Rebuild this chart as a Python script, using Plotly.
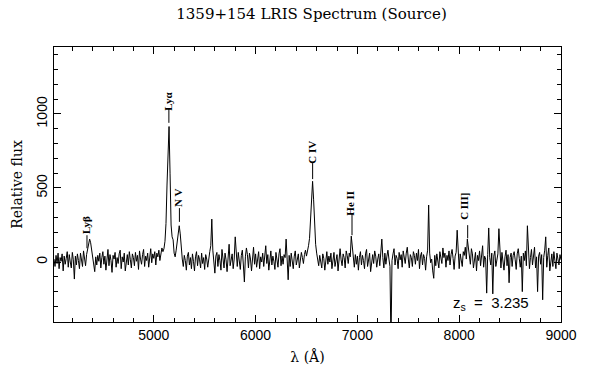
import numpy as np
import plotly.graph_objects as go

# ---------------- data ----------------
wave_start = 4020.0   # Angstrom, first sample
wave_step = 10.0      # Angstrom per sample

flux = [
    # 4020 - 4260
    20, -30, 45, -10, 60, -45, 30, 5, 55, -60, 40, -15, 25, 70, -35, 50, 0, -40, 65, 15, -115, 40, -20, 55, 10,
    # 4270 - 4510 (Ly beta)
    -45, 60, 20, -30, 75, 30, -25, 50, 80, 110, 155, 130, 80, 40, -10, -65, 35, -20, 45, 5, 60, -40, 30, 70, -15,
    # 4520 - 4760
    40, -55, 25, 85, -25, 50, 10, -70, 45, 20, 65, -35, 30, -10, 55, 80, -45, 35, 0, 60, -60, 25, 50, -20, 70,
    # 4770 - 5010
    15, -40, 55, 30, -25, 65, 5, 45, -50, 75, 20, -15, 50, 85, -30, 40, 10, 60, -35, 45, 90, -5, 55, 25, 70,
    # 5020 - 5260 (Ly alpha, N V)
    -20, 60, 35, 80, 10, 55, 95, 70, 90, 140, 260, 520, 820, 915, 600, 250, 170, 150, 60, 35, 80, 150, 215, 245, 190,
    # 5270 - 5510
    70, 20, -30, 45, 10, -55, 40, 65, -20, 30, -45, 55, 5, -60, 35, 70, -25, 45, 15, -40, 60, -10, 30, -50, 50,
    # 5520 - 5760
    20, -35, 45, 70, 110, 290, 80, -20, -75, 40, 65, -30, 50, 10, -55, 85, 35, -40, 60, 15, -65, 45, 120, -25, 30,
    # 5770 - 6010
    55, -45, 20, 170, 40, -30, 65, 10, -50, 45, 80, -20, -135, 35, 95, 50, -40, 60, 20, -60, 40, 100, -15, 55, -35,
    # 6020 - 6260
    25, 70, -45, 35, 0, 60, -30, 45, 110, -10, 50, -55, 30, 75, -20, 40, 5, -50, 65, 20, -35, 55, 90, -25, 40,
    # 6270 - 6510
    -15, 50, 30, 155, 20, -120, 45, -30, 60, 10, -45, 40, 75, -20, 35, 55, -40, 15, 65, 30, -10, 50, 80, 40, 70,
    # 6520 - 6760 (C IV)
    110, 160, 280, 450, 545, 420, 220, 120, 60, 20, -25, 45, 10, -40, 55, 25, -55, 35, 70, -15, 40, 0, 60, -45, 30,
    # 6770 - 7010 (He II)
    65, -30, 20, 50, -60, 40, 90, 15, -25, 55, 30, -40, 75, 45, -10, 60, 35, 175, 110, 20, -35, 50, -15, 40, -55,
    # 7020 - 7260
    30, 70, -20, 45, 10, -45, 55, 85, -30, 35, 60, -65, 25, 50, -10, 75, 40, -35, 20, 55, -25, 45, 155, 30, -40,
    # 7270 - 7510
    60, -15, 40, 80, 20, -30, -560, 10, 55, 90, -20, 45, 25, -45, 65, 15, 50, -35, 75, 35, -10, 60, 100, 20, -40,
    # 7520 - 7760
    50, 30, -30, 70, 45, -15, 60, 10, 85, -45, 40, 65, -20, 50, 25, -55, 35, 80, 385, 60, -5, 20, -60, -110, 45,
    # 7770 - 8010
    -25, 55, 20, -40, 70, 40, -10, 95, 30, 60, -35, 45, 10, 75, -20, 50, 85, 25, -50, 40, 65, 215, 30, -45, 55,
    # 8020 - 8260 (C III])
    15, -30, 70, 45, 100, 20, 155, 80, 40, -15, 90, 55, -40, 30, 65, -60, 45, 10, 75, -25, 50, 110, -35, 40, 20,
    # 8270 - 8510
    -210, 50, 230, 30, -20, 60, -215, 40, 75, -30, 20, 55, 225, 45, -40, 65, 10, -55, 35, 80, -25, 50, -140, 30, 60,
    # 8520 - 8760
    -30, 45, 70, 15, -50, 55, 90, 25, -35, 40, -200, 60, 10, 75, -25, 245, 50, -45, 30, 85, -20, 55, 100, -40, 35,
    # 8770 - 9000
    -200, 40, 65, -15, 50, -255, 30, 80, 170, -35, 45, 95, -60, 20, 55, -30, 70, 10, -45, 60, 25, -20, 50, 15,
]

z_source = 3.235
line_names = ["Lyβ", "Lyα", "N V", "C IV", "He II", "C III]"]
line_rest = [1025.7, 1215.7, 1240.1, 1549.1, 1640.4, 1908.7]

x_ticks = [5000, 6000, 7000, 8000, 9000]
y_ticks = [0, 500, 1000]

# ------------- label layout (flux-axis positions of marker ends and text) -------------
marker_top = [181, 1039, 364, 668, 329, 249]
marker_bot = [93, 940, 271, 560, 181, 160]
label_y = [249, 1089, 435, 743, 394, 377]
label_dx = [-1, -1, -2, -1, -2, -3]

wave = wave_start + wave_step * np.arange(len(flux))
line_obs = [w * (1 + z_source) for w in line_rest]

fig = go.Figure()
fig.add_trace(go.Scatter(
    x=wave, y=flux, mode="lines",
    line=dict(color="black", width=1),
    hoverinfo="skip",
))

shapes = []
annotations = []
for name, lo, top, bot, ly, dx in zip(line_names, line_obs, marker_top, marker_bot, label_y, label_dx):
    shapes.append(dict(type="line", xref="x", yref="y", x0=lo, x1=lo, y0=bot, y1=top,
                       line=dict(color="black", width=1)))
    annotations.append(dict(x=lo, y=ly, xref="x", yref="y", text="<b>" + name + "</b>",
                            showarrow=False, textangle=-90, xanchor="center",
                            yanchor="middle", xshift=dx,
                            font=dict(family="Liberation Serif", size=11, color="black")))

annotations.append(dict(x=8311, y=-280, xref="x", yref="y",
                        text="z<sub>s</sub>  =  3.235", showarrow=False,
                        xanchor="center", yanchor="middle",
                        font=dict(family="Liberation Sans", size=15, color="black")))

axis_common = dict(
    showline=True, linecolor="black", linewidth=1, mirror="ticks",
    ticks="inside", ticklen=7, tickwidth=1, tickcolor="black",
    showgrid=False, zeroline=False,
    tickfont=dict(family="Liberation Sans", size=14, color="black"),
)

fig.update_layout(
    width=589, height=383,
    margin=dict(l=54, r=20, t=47, b=61),
    paper_bgcolor="white", plot_bgcolor="white",
    showlegend=False,
    title=dict(text="1359+154 LRIS Spectrum (Source)", x=311.5 / 589, xanchor="center",
               y=1 - 14 / 383, yanchor="middle",
               font=dict(family="DejaVu Serif", size=15, color="black")),
    xaxis=dict(range=[4020, 9000], tickvals=x_ticks, ticktext=[str(v) for v in x_ticks],
               minor=dict(dtick=200, tick0=4000, ticks="inside", ticklen=4,
                          tickcolor="black", showgrid=False),
               title=dict(text="λ (Å)", standoff=10,
                          font=dict(family="DejaVu Serif", size=14, color="black")),
               **axis_common),
    yaxis=dict(range=[-405, 1452], tickvals=y_ticks, ticktext=[str(v) for v in y_ticks],
               tickangle=-90,
               minor=dict(dtick=100, tick0=0, ticks="inside", ticklen=4,
                          tickcolor="black", showgrid=False),
               title=dict(text="Relative flux", standoff=8,
                          font=dict(family="DejaVu Serif", size=14, color="black")),
               **axis_common),
    shapes=shapes,
    annotations=annotations,
)

fig.write_html("out.html")
